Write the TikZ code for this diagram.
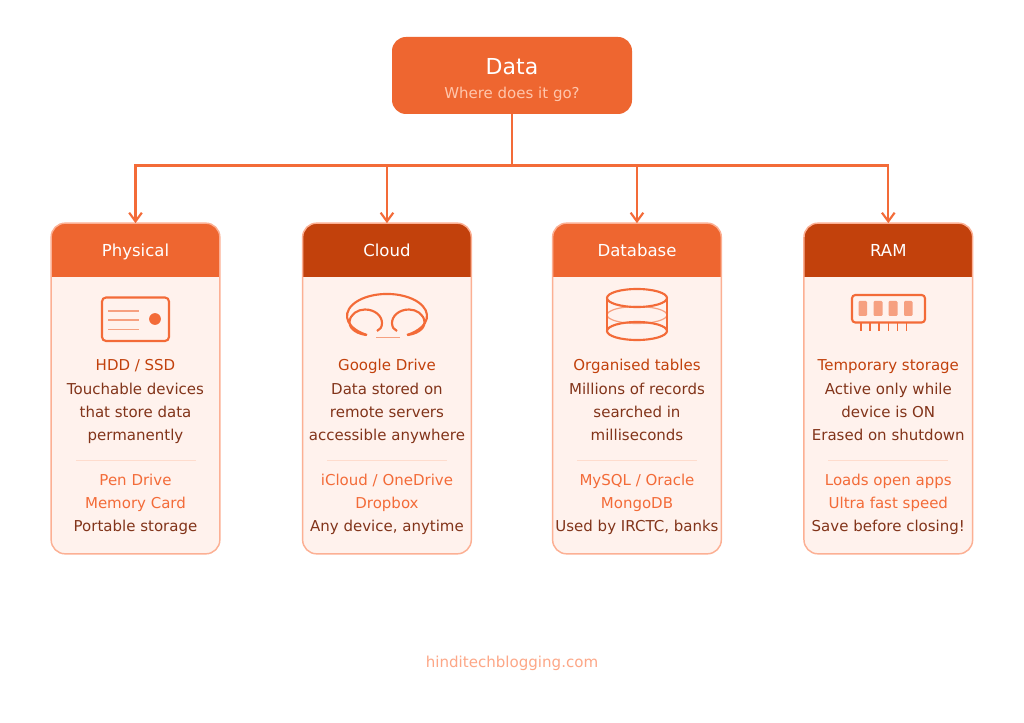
\documentclass[tikz,border=0pt]{standalone}
\usepackage{fontspec}
\setmainfont{DejaVu Sans}
\usetikzlibrary{positioning,calc}
\usetikzlibrary{arrows.meta}
\definecolor{myorange}{RGB}{238,102,48}
\definecolor{mydark}{RGB}{194,65,12}
\definecolor{myline}{RGB}{243,107,56}
\definecolor{myfill}{RGB}{255,242,237}
\definecolor{myedge}{RGB}{252,176,148}
\definecolor{mybrown}{RGB}{130,52,26}
\definecolor{mysub}{RGB}{255,198,172}
\definecolor{myfoot}{RGB}{253,167,135}
\definecolor{mychip}{RGB}{246,160,128}
\definecolor{mydiv}{RGB}{254,220,205}

\begin{document}
\begin{tikzpicture}[x=0.75pt,y=-0.75pt,
  rootbox/.style={fill=myorange,rounded corners=10.5pt,minimum width=180pt,minimum height=57.75pt,inner sep=0pt},
  card/.style={draw=myedge,line width=1.1pt,fill=myfill,rounded corners=10.5pt,outer sep=0pt,
    minimum width=126.5pt,minimum height=248pt,inner sep=0pt,
    path picture={\fill[#1,sharp corners] (path picture bounding box.north west) rectangle ([yshift=-40.5pt]path picture bounding box.north east);}},
  cardtitle/.style={text=white,font=\fontsize{12.4}{15}\selectfont,minimum height=40.5pt,inner sep=0pt,outer sep=0pt,text height=11.5pt,text depth=2.5pt},
  txt/.style={font=\fontsize{11.25}{14}\selectfont,text height=12.4pt,text depth=4.85pt,inner sep=0pt,outer sep=0pt},
  headline/.style={txt,text=mydark},
  plain/.style={txt,text=mybrown},
  extra/.style={txt,text=myline},
  divider/.style={fill=mydiv,minimum width=90pt,minimum height=0.8pt,inner sep=0pt,outer sep=0pt},
  link/.style={draw=myline,line width=1.6pt},
  tip/.style={link,-{Straight Barb[length=6.5pt,width=9.5pt,line width=1.6pt]}},
  icon/.style={draw=myline,line width=1.6pt},
  thinicon/.style={draw=myline,line width=1.1pt},
  faint/.style={draw=mychip,line width=0.9pt}]

  \useasboundingbox[fill=white] (0,0) rectangle (1024,723);

  \node[rootbox] (root) at (512,75.5) {};
  \node[text=white,font=\fontsize{16.5}{20}\selectfont] (roottitle) at (512,66.5) {Data};
  \node[text=mysub,font=\fontsize{11.25}{14}\selectfont] (rootsub) at (512,94.5) {Where does it go?};

  \node[card=myorange] (phys) at (135.5,388.5) {};
  \node[card=mydark,right=62.1pt of phys] (cloud) {};
  \node[card=myorange,right=61pt of cloud] (db) {};
  \node[card=mydark,right=62pt of db] (ram) {};

  \node[cardtitle,below=0pt of phys.north] (physhead) {Physical};
  \node[cardtitle,below=0pt of cloud.north] (cloudhead) {Cloud};
  \node[cardtitle,below=0pt of db.north] (dbhead) {Database};
  \node[cardtitle,below=0pt of ram.north] (ramhead) {RAM};

  \coordinate (bus) at (512,165.5);
  \draw[link] (root) -- (bus);
  \draw[tip] (bus) -| (physhead.north);
  \draw[tip] (bus) -| (cloudhead.north);
  \draw[tip] (bus) -| (dbhead.north);
  \draw[tip] (bus) -| (ramhead.north);

  \node[headline,below=57.4pt of physhead.south] (phys1) {HDD / SSD};
  \node[plain,below=0.75pt of phys1] (phys2) {Touchable devices};
  \node[plain,below=0pt of phys2] (phys3) {that store data};
  \node[plain,below=0pt of phys3] (phys4) {permanently};
  \node[divider,below=10.2pt of phys4] (physdiv) {};
  \node[extra,below=5.6pt of physdiv] (phys5) {Pen Drive};
  \node[extra,below=0pt of phys5] (phys6) {Memory Card};
  \node[plain,below=0pt of phys6] (phys7) {Portable storage};

  \node[headline,below=57.4pt of cloudhead.south] (cloud1) {Google Drive};
  \node[plain,below=0.75pt of cloud1] (cloud2) {Data stored on};
  \node[plain,below=0pt of cloud2] (cloud3) {remote servers};
  \node[plain,below=0pt of cloud3] (cloud4) {accessible anywhere};
  \node[divider,below=10.2pt of cloud4] (clouddiv) {};
  \node[extra,below=5.6pt of clouddiv] (cloud5) {iCloud / OneDrive};
  \node[extra,below=0pt of cloud5] (cloud6) {Dropbox};
  \node[plain,below=0pt of cloud6] (cloud7) {Any device, anytime};

  \node[headline,below=57.4pt of dbhead.south] (db1) {Organised tables};
  \node[plain,below=0.75pt of db1] (db2) {Millions of records};
  \node[plain,below=0pt of db2] (db3) {searched in};
  \node[plain,below=0pt of db3] (db4) {milliseconds};
  \node[divider,below=10.2pt of db4] (dbdiv) {};
  \node[extra,below=5.6pt of dbdiv] (db5) {MySQL / Oracle};
  \node[extra,below=0pt of db5] (db6) {MongoDB};
  \node[plain,below=0pt of db6] (db7) {Used by IRCTC, banks};

  \node[headline,below=57.4pt of ramhead.south] (ram1) {Temporary storage};
  \node[plain,below=0.75pt of ram1] (ram2) {Active only while};
  \node[plain,below=0pt of ram2] (ram3) {device is ON};
  \node[plain,below=0pt of ram3] (ram4) {Erased on shutdown};
  \node[divider,below=10.2pt of ram4] (ramdiv) {};
  \node[extra,below=5.6pt of ramdiv] (ram5) {Loads open apps};
  \node[extra,below=0pt of ram5] (ram6) {Ultra fast speed};
  \node[plain,below=0pt of ram6] (ram7) {Save before closing!};

  % icons
  \draw[icon,rounded corners=3pt] (102,297.5) rectangle (169,341);
  \draw[faint] (108,311) -- (139,311) (108,320) -- (139,320) (108,329.5) -- (139,329.5);
  \fill[myline] (155,319) circle (4.4pt);

  \draw[icon] (367,335) arc[start angle=120,end angle=420,x radius=40,y radius=22];
  \draw[icon] (366,335) .. controls (353,333) and (349,326) .. (349.5,322) .. controls (350,314) and (358,309.5) .. (365,309.5) .. controls (375,309.5) and (382,316) .. (382,323) .. controls (382,327) and (380,330) .. (377,331);
  \draw[icon] (408,335) .. controls (421,333) and (425,326) .. (424.5,322) .. controls (424,314) and (416,309.5) .. (409,309.5) .. controls (399,309.5) and (392,316) .. (392,323) .. controls (392,327) and (394,330) .. (397,331);
  \draw[faint] (376,337.8) -- (400,337.8);

  \draw[faint] (637,315) ellipse (30 and 8.5);
  \draw[icon] (637,298) ellipse (30 and 9);
  \draw[icon] (637,331) ellipse (30 and 9);
  \draw[thinicon] (607,298) -- (607,331) (667,298) -- (667,331);

  \draw[icon,rounded corners=2.5pt] (852,295) rectangle (925,322.5);
  \fill[mychip,rounded corners=0.8pt] (858.5,301) rectangle (867,316);
  \fill[mychip,rounded corners=0.8pt] (873.5,301) rectangle (882.5,316);
  \fill[mychip,rounded corners=0.8pt] (888.5,301) rectangle (897.5,316);
  \fill[mychip,rounded corners=0.8pt] (904,301) rectangle (912.5,316);
  \draw[thinicon] (861,323) -- (861,331) (870,323) -- (870,331) (879,323) -- (879,331)
    (888.3,323) -- (888.3,331) (897.3,323) -- (897.3,331) (906.3,323) -- (906.3,331);

  \node[text=myfoot,font=\fontsize{11.3}{14}\selectfont] (footer) at (512,663.5) {hinditechblogging.com};
\end{tikzpicture}
\end{document}
